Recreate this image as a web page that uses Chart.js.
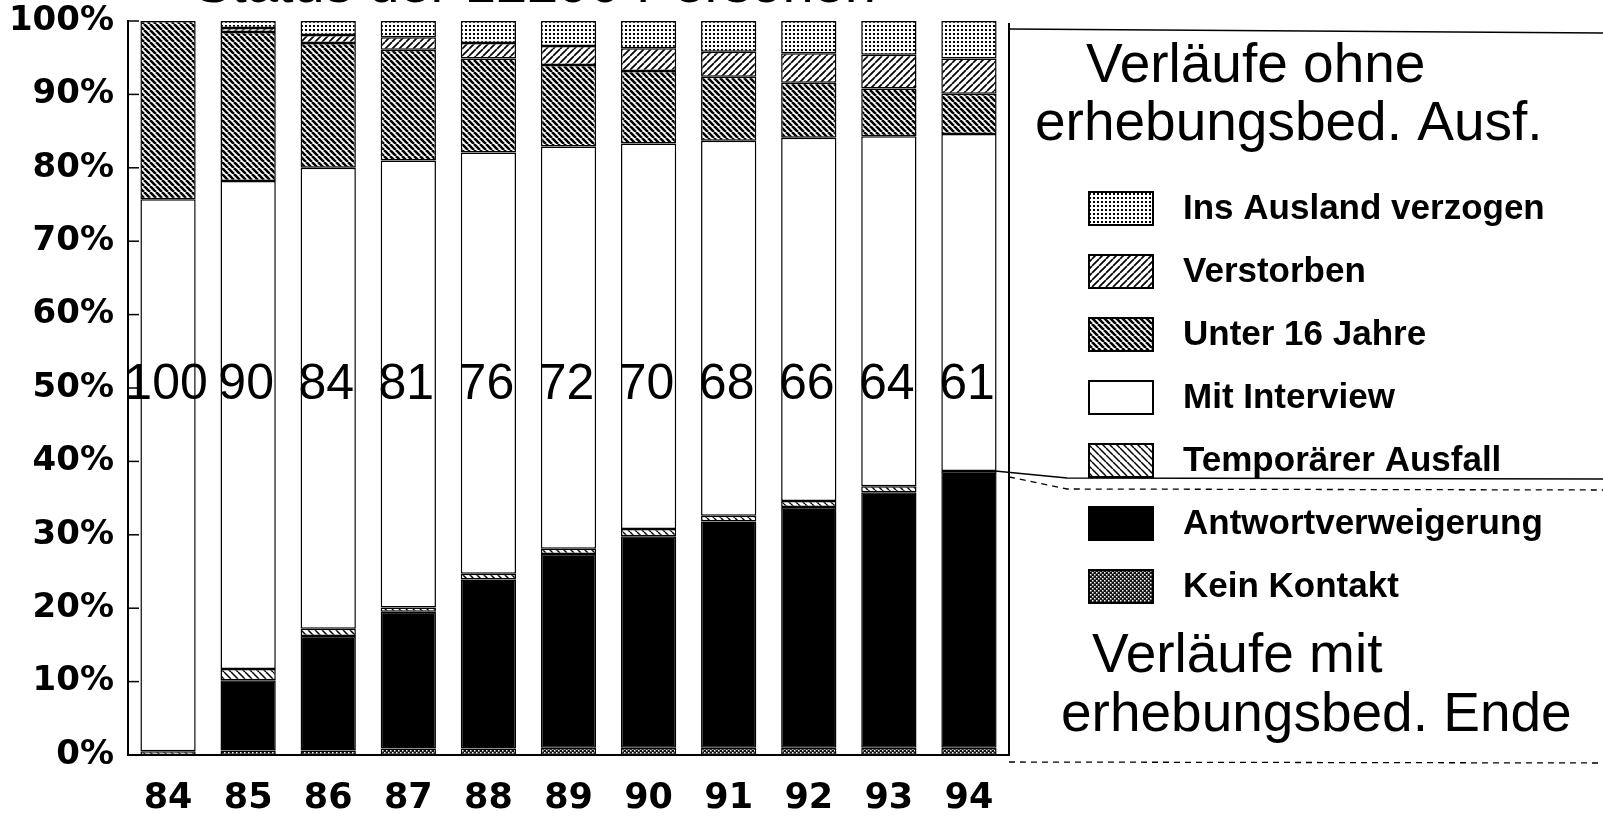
<!DOCTYPE html>
<html>
<head>
<meta charset="utf-8">
<script src="https://cdn.jsdelivr.net/npm/chart.js@4"></script>
<style>
  body { margin: 0; background: #fff; }
</style>
</head>
<body>
<canvas id="verlauf-chart" width="1603" height="822"></canvas>
<script>
const years = ['84', '85', '86', '87', '88', '89', '90', '91', '92', '93', '94'];

// Anteile in %, von unten nach oben gestapelt
const keinKontakt = [0, 0.6, 0.6, 0.9, 0.9, 1.0, 1.0, 1.0, 1.0, 1.0, 1.0];
const antwort = [0, 9.6, 15.6, 18.6, 23.0, 26.4, 28.8, 30.8, 32.8, 34.8, 37.7];
const temporaer = [0.5, 1.5, 1.0, 0.6, 0.8, 0.7, 1.0, 0.8, 0.8, 0.8, 0];
const mitInterview = [75.2, 66.5, 62.8, 60.9, 57.4, 54.8, 52.5, 51.1, 49.5, 47.7, 45.9];
const unter16 = [24.3, 20.3, 17.0, 15.1, 12.8, 11.1, 9.9, 8.7, 7.5, 6.5, 5.5];
const verstorben = [0, 0.55, 1.1, 1.7, 2.1, 2.6, 3.1, 3.4, 4.0, 4.6, 4.8];
const ausland = [0, 0.95, 1.9, 2.2, 3.0, 3.4, 3.7, 4.2, 4.4, 4.6, 5.1];

// Zahl ueber den Balken
const verbleib = [100, 90, 84, 81, 76, 72, 70, 68, 66, 64, 61];

const makePattern = (size, draw) => {
  const c = document.createElement('canvas');
  c.width = size;
  c.height = size;
  const ctx = c.getContext('2d');
  ctx.fillStyle = '#fff';
  ctx.fillRect(0, 0, size, size);
  draw(ctx, size);
  return ctx.createPattern(c, 'repeat');
};

const hatch = (dir, lw) => (ctx, s) => {
  ctx.strokeStyle = '#000';
  ctx.lineWidth = lw;
  ctx.beginPath();
  for (let k = -1; k <= 1; k++) {
    if (dir === 'back') {
      ctx.moveTo(k * s, 0);
      ctx.lineTo(k * s + s, s);
    } else {
      ctx.moveTo(k * s, s);
      ctx.lineTo(k * s + s, 0);
    }
  }
  ctx.stroke();
};

const dotPattern = makePattern(4, (ctx) => {
  ctx.fillStyle = '#000';
  ctx.fillRect(1, 1, 2, 2);
});
const kontaktPattern = makePattern(4, (ctx) => {
  ctx.fillStyle = '#111';
  ctx.fillRect(0, 0, 4, 4);
  ctx.fillStyle = '#fff';
  ctx.fillRect(0, 0, 1.5, 1.5);
  ctx.fillRect(2, 2, 1.5, 1.5);
});
const unterPattern = makePattern(6, hatch('back', 2.6));
const verstPattern = makePattern(7, hatch('fwd', 1.7));
const tempPattern = makePattern(7, hatch('back', 1.5));

const extras = {
  id: 'extras',
  afterDraw: (chart) => {
    const ctx = chart.ctx;
    const area = chart.chartArea;
    const x = chart.scales.x;
    const y = chart.scales.y;
    ctx.save();

    // kleine Ticks innen
    ctx.strokeStyle = '#000';
    ctx.lineWidth = 1.5;
    y.ticks.forEach((t) => {
      const py = y.getPixelForValue(t.value);
      ctx.beginPath();
      ctx.moveTo(area.left, py);
      ctx.lineTo(area.left + 11, py);
      ctx.stroke();
    });

    // rechter Rahmen
    ctx.lineWidth = 2;
    ctx.beginPath();
    ctx.moveTo(area.right, area.top + 2);
    ctx.lineTo(area.right, area.bottom);
    ctx.stroke();

    // Zahlen
    ctx.fillStyle = '#000';
    ctx.font = '50px "Liberation Sans"';
    ctx.textAlign = 'center';
    ctx.textBaseline = 'middle';
    verbleib.forEach((v, i) => {
      ctx.fillText(String(v), x.getPixelForValue(i) - 2, y.getPixelForValue(50.4));
    });

    // Linien rechts
    ctx.lineWidth = 1.5;
    ctx.beginPath();
    ctx.moveTo(area.right, 29);
    ctx.lineTo(1603, 33);
    ctx.stroke();

    const topBar = y.getPixelForValue(keinKontakt[10] + antwort[10]);
    ctx.beginPath();
    ctx.moveTo(area.right - 14, topBar);
    ctx.lineTo(1067, 478);
    ctx.lineTo(1603, 479);
    ctx.stroke();

    ctx.setLineDash([6, 5]);
    ctx.lineWidth = 1.3;
    ctx.beginPath();
    ctx.moveTo(area.right, 477);
    ctx.lineTo(1067, 489);
    ctx.lineTo(1603, 490);
    ctx.stroke();

    ctx.beginPath();
    ctx.moveTo(area.right, 762);
    ctx.lineTo(1603, 763);
    ctx.stroke();
    ctx.setLineDash([]);

    // Ueberschriften
    ctx.textAlign = 'left';
    ctx.textBaseline = 'alphabetic';
    ctx.font = '55px "Liberation Sans"';
    ctx.fillText('Verläufe ohne', 1086, 82);
    ctx.fillText('erhebungsbed. Ausf.', 1035, 140);
    ctx.fillText('Verläufe mit', 1092, 672);
    ctx.fillText('erhebungsbed. Ende', 1061, 731);

    // abgeschnittener Titel
    ctx.font = '56px "Liberation Sans"';
    ctx.fillText('Status der 12290 Personen', 194, 2);

    // Legende
    const items = chart.data.datasets.slice().reverse();
    ctx.font = 'bold 35px "Liberation Sans"';
    ctx.textBaseline = 'middle';
    items.forEach((ds, i) => {
      const cy = 208 + i * 63;
      ctx.fillStyle = ds.backgroundColor;
      ctx.fillRect(1089, cy - 16, 64, 33);
      ctx.lineWidth = 2;
      ctx.strokeStyle = '#000';
      ctx.strokeRect(1089, cy - 16, 64, 33);
      ctx.fillStyle = '#000';
      ctx.fillText(ds.label, 1183, cy + 1);
    });

    ctx.restore();
  },
};

const bar = (label, data, bg) => ({
  label: label,
  data: data,
  backgroundColor: bg,
  borderColor: '#000',
  borderWidth: 1.5,
  borderSkipped: false,
  barPercentage: 0.69,
  categoryPercentage: 1,
});

const tickFont = (size) => ({ family: '"DejaVu Sans"', weight: 'bold', size: size });

new Chart(document.getElementById('verlauf-chart'), {
  type: 'bar',
  data: {
    labels: years,
    datasets: [
      bar('Kein Kontakt', keinKontakt, kontaktPattern),
      bar('Antwortverweigerung', antwort, '#000'),
      bar('Temporärer Ausfall', temporaer, tempPattern),
      bar('Mit Interview', mitInterview, '#fff'),
      bar('Unter 16 Jahre', unter16, unterPattern),
      bar('Verstorben', verstorben, verstPattern),
      bar('Ins Ausland verzogen', ausland, dotPattern),
    ],
  },
  options: {
    responsive: false,
    animation: false,
    layout: { padding: { top: 21, right: 594, left: 0, bottom: 0 } },
    plugins: {
      legend: { display: false },
      tooltip: { enabled: false },
    },
    scales: {
      x: {
        stacked: true,
        grid: { display: false, drawTicks: false },
        border: { color: '#000', width: 2 },
        ticks: { color: '#000', font: tickFont(35), padding: 23 },
        afterFit: (s) => {
          s.height = 67;
          s.paddingLeft = 0;
          s.paddingRight = 0;
        },
      },
      y: {
        stacked: true,
        min: 0,
        max: 100,
        grid: { display: false, drawTicks: false },
        border: { color: '#000', width: 2 },
        ticks: {
          stepSize: 10,
          color: '#000',
          font: tickFont(34),
          padding: 14,
          callback: (v) => v + '%',
        },
        afterFit: (s) => {
          s.width = 128;
          s.paddingTop = 0;
          s.paddingBottom = 0;
        },
      },
    },
  },
  plugins: [extras],
});
</script>
</body>
</html>
